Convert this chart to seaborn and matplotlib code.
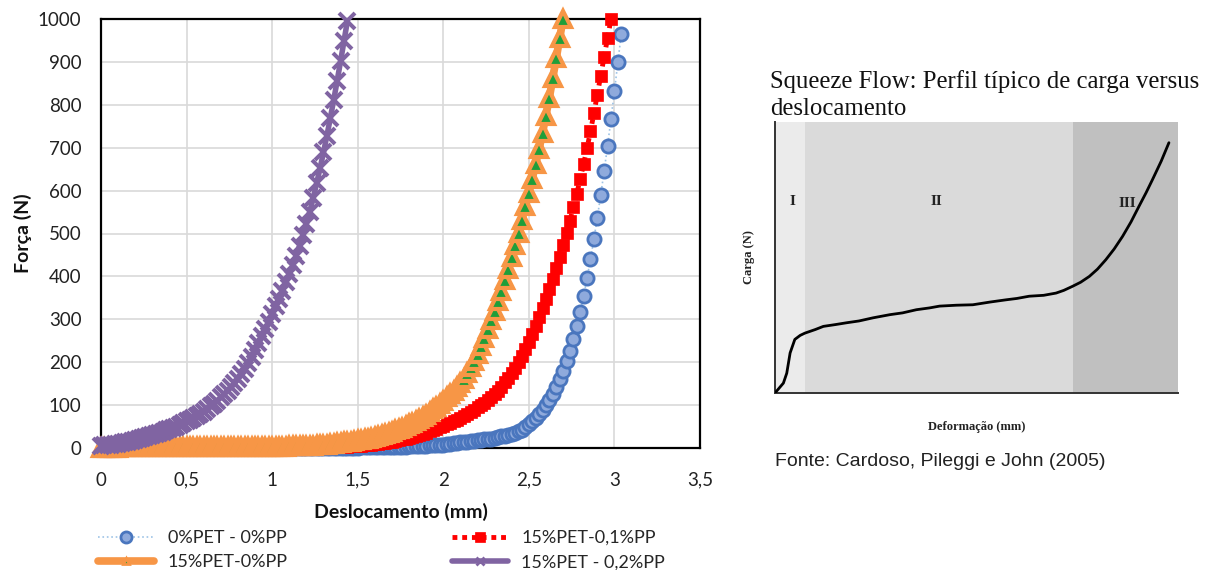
import numpy as np
import matplotlib
matplotlib.use("Agg")
import matplotlib.pyplot as plt
from matplotlib.lines import Line2D
from matplotlib.ticker import FuncFormatter, MultipleLocator
import seaborn as sns

sns.set_theme(style="white")
plt.rcParams["font.family"] = ["Lato", "DejaVu Sans"]

# Displacement is sampled at a constant rate (mm per reading)
STEP_MM = 0.02

# 0%PET - 0%PP  (readings start at 1.00 mm)
blue_start = 1.00
blue_force = [
    0, 0, 0, 0, 0, 0, 0, 0, 0, 0,
    0, 0, 0, 1, 1, 1, 1, 1, 1, 1,
    1, 1, 1, 1, 1, 1, 2, 2, 2, 2,
    2, 2, 2, 2, 2, 3, 3, 3, 3, 3,
    4, 4, 4, 5, 5, 5, 6, 6, 7, 7,
    8, 9, 10, 11, 12, 13, 14, 15, 16, 17,
    18, 19, 20, 21, 22, 23, 25, 27, 29, 31,
    33, 36, 39, 43, 48, 55, 62, 70, 79, 89,
    100, 112, 126, 142, 160, 180, 202, 227, 254, 284,
    318, 355, 396, 440, 487, 537, 590, 646, 705, 767,
    832, 899, 965,
]

# 15%PET-0,1%PP  (readings start at 1.00 mm)
red_start = 1.00
red_force = [
    0, 0, 0, 0, 0, 0, 0, 0, 0, 0,
    0, 0, 0, 0, 0, 1, 1, 1, 2, 2,
    2, 3, 3, 4, 4, 5, 5, 6, 7, 8,
    9, 10, 11, 12, 13, 15, 16, 18, 20, 22,
    24, 26, 28, 31, 33, 36, 39, 42, 45, 48,
    51, 55, 58, 62, 66, 70, 75, 79, 84, 89,
    95, 100, 106, 112, 119, 126, 134, 143, 153, 164,
    175, 187, 200, 215, 231, 248, 266, 285, 305, 326,
    348, 371, 395, 420, 446, 473, 501, 530, 561, 593,
    627, 662, 699, 738, 780, 824, 868, 912, 956, 1000,
]

# 15%PET-0%PP  (readings start at 0 mm)
orange_start = 0.0
orange_force = [
    0, 0, 1, 1, 1, 1, 2, 2, 2, 2,
    2, 2, 2, 3, 3, 3, 3, 3, 3, 3,
    3, 3, 3, 3, 3, 3, 3, 3, 3, 3,
    3, 3, 3, 3, 3, 3, 3, 3, 3, 3,
    3, 3, 3, 3, 3, 3, 3, 3, 3, 3,
    3, 3, 3, 3, 3, 4, 4, 4, 4, 4,
    4, 5, 5, 6, 7, 7, 8, 9, 10, 11,
    12, 13, 14, 15, 16, 18, 19, 21, 22, 24,
    26, 28, 30, 32, 35, 38, 41, 44, 47, 51,
    55, 59, 63, 68, 73, 78, 84, 90, 96, 103,
    110, 118, 126, 134, 143, 152, 162, 174, 188, 203,
    220, 238, 257, 277, 298, 320, 343, 367, 392, 418,
    445, 473, 502, 532, 563, 595, 628, 662, 697, 735,
    775, 817, 862, 908, 955, 1000,
]

# 15%PET - 0,2%PP  (readings start at 0 mm)
purple_start = 0.0
purple_force = [
    5, 6, 7, 8, 9, 10, 12, 13, 15, 17,
    19, 21, 23, 25, 28, 30, 33, 35, 38, 41,
    44, 47, 50, 54, 58, 62, 66, 70, 75, 80,
    85, 91, 97, 103, 110, 118, 126, 134, 142, 151,
    160, 172, 185, 199, 213, 228, 244, 260, 277, 294,
    312, 330, 348, 367, 386, 405, 426, 448, 471, 496,
    522, 551, 583, 617, 652, 689, 728, 769, 812, 856,
    902, 949, 996,
]

series_labels = ["0%PET - 0%PP", "15%PET-0,1%PP", "15%PET-0%PP", "15%PET - 0,2%PP"]

x_ticks = [0, 0.5, 1, 1.5, 2, 2.5, 3, 3.5]
y_ticks = [0, 100, 200, 300, 400, 500, 600, 700, 800, 900, 1000]

# Typical squeeze-flow profile (load vs deformation, arbitrary units)
profile_x = [0.0, 0.25, 0.35, 0.45, 0.59, 0.75, 0.89, 1.2, 1.44, 1.8, 2.13, 2.5, 2.92,
             3.42, 3.8, 4.21, 4.6, 4.9, 5.4, 5.89, 6.4, 6.88, 7.2, 7.57, 8.0, 8.37,
             8.6, 8.86, 9.1, 9.36, 9.6, 9.85, 10.1, 10.35, 10.6, 10.84, 11.05,
             11.24, 11.5, 11.73]
profile_y = [0.0, 0.22, 0.44, 0.89, 1.19, 1.28, 1.33, 1.41, 1.48, 1.52, 1.56, 1.60, 1.67,
             1.74, 1.78, 1.85, 1.89, 1.93, 1.95, 1.96, 2.02, 2.07, 2.10, 2.15, 2.17, 2.22,
             2.28, 2.37, 2.46, 2.59, 2.75, 2.96, 3.20, 3.48, 3.80, 4.15, 4.45,
             4.74, 5.15, 5.56]
zone_bounds = [0.0, 0.89, 8.86, 12.0]
zone_names = ["I", "II", "III"]
zone_colors = ["#EBEBEB", "#DADADA", "#C0C0C0"]

W, H = 1211, 570
fig = plt.figure(figsize=(W / 100, H / 100), dpi=100)

# ---------------- main chart ----------------
ax = fig.add_axes([101 / W, 1 - 448 / H, 599 / W, 429 / H])

styles = [
    dict(force=blue_force, start=blue_start, color="#9DC3E6", marker="o", ms=9.5,
         mfc="#8FAADC", mec="#4A76BE", mew=2.0, ls=":", lw=1.2, leg_ms=8),
    dict(force=red_force, start=red_start, color="#FF0000", marker="s", ms=8.4,
         mfc="#FF0000", mec="#FF0000", mew=0.5, ls=(0, (1, 1)), lw=3.5, leg_ms=7.5),
    dict(force=orange_force, start=orange_start, color="#F79646", marker="^", ms=11.5,
         mfc="#1E9E3A", mec="#F79646", mew=3.0, ls="-", lw=5.5, leg_ms=4.5),
    dict(force=purple_force, start=purple_start, color="#8064A2", marker="x", ms=12,
         mfc="#8064A2", mec="#8064A2", mew=2.9, ls="-", lw=4.0, leg_ms=5.5),
]

legend_handles = []
for z, st in enumerate(styles):
    f = np.asarray(st["force"], dtype=float)
    x = st["start"] + STEP_MM * np.arange(len(f))
    sns.lineplot(x=x, y=f, ax=ax, sort=False, estimator=None, legend=False,
                 color=st["color"], linestyle=st["ls"], linewidth=st["lw"],
                 marker=st["marker"], markersize=st["ms"],
                 markerfacecolor=st["mfc"], markeredgecolor=st["mec"],
                 markeredgewidth=st["mew"], clip_on=False, zorder=3 + z)
    legend_handles.append(Line2D([], [], color=st["color"], linestyle=st["ls"],
                                 linewidth=st["lw"], marker=st["marker"],
                                 markersize=st["leg_ms"], markerfacecolor=st["mfc"],
                                 markeredgecolor=st["mec"],
                                 markeredgewidth=min(st["mew"], 2.0)))

ax.set_xlim(0, 3.5)
ax.set_ylim(0, 1000)
ax.set_xticks(x_ticks)
ax.set_yticks(y_ticks)
ax.xaxis.set_major_formatter(FuncFormatter(lambda v, p: f"{v:g}".replace(".", ",")))
ax.grid(True, color="#D9D9D9", linewidth=1.2)
ax.set_axisbelow(True)
for s in ax.spines.values():
    s.set_color("black")
    s.set_linewidth(1.6)
    s.set_zorder(2.5)
ax.tick_params(axis="both", length=0, labelsize=13.5, colors="#222222")
ax.tick_params(axis="y", pad=14)
ax.tick_params(axis="x", pad=17)
ax.set_xlabel("Deslocamento (mm)", fontsize=14, fontweight="bold", labelpad=10, color="#111111")
ax.set_ylabel("Força (N)", fontsize=14, fontweight="bold", labelpad=4, color="#111111")

# legend fills row by row: reorder for matplotlib's column-major layout
order = [0, 2, 1, 3]
fig.legend([legend_handles[i] for i in order], [series_labels[i] for i in order],
           ncol=2, loc="upper left",
           bbox_to_anchor=(98 / W, 1 - 530 / H), frameon=False, fontsize=13,
           handlelength=3.1, handletextpad=0.75, columnspacing=9.1,
           labelspacing=0.45, borderaxespad=0, borderpad=0)

# ---------------- typical profile panel ----------------
axi = fig.add_axes([775 / W, 1 - 393 / H, 403 / W, 271 / H])
for (a, b), c in zip(zip(zone_bounds[:-1], zone_bounds[1:]), zone_colors):
    axi.axvspan(a, b, color=c, lw=0, zorder=0)
sns.lineplot(x=profile_x, y=profile_y, ax=axi, sort=False, estimator=None,
             color="black", linewidth=2.0, zorder=3, legend=False)
label_pos = [(0.52, 4.26), (4.8, 4.26), (10.5, 4.22)]
for name, (px, py) in zip(zone_names, label_pos):
    axi.text(px, py, name, family="Liberation Serif", fontweight="bold",
             fontsize=11, ha="center", va="center", color="#222222")
axi.set_xlim(0, 12)
axi.set_ylim(0, 6.02)
axi.xaxis.set_major_locator(MultipleLocator(1))
axi.yaxis.set_major_locator(MultipleLocator(1))
axi.set_xticklabels([])
axi.set_yticklabels([])
axi.tick_params(axis="both", direction="out", length=4, width=1, colors="#333333")
axi.spines["top"].set_visible(False)
axi.spines["right"].set_visible(False)
for s in ("left", "bottom"):
    axi.spines[s].set_color("#333333")
    axi.spines[s].set_linewidth(1.4)
axi.set_xlabel("Deformação (mm)", family="Liberation Serif", fontweight="bold",
               fontsize=9, labelpad=13, color="#222222")
axi.set_ylabel("Carga (N)", family="Liberation Serif", fontweight="bold",
               fontsize=9, labelpad=7, color="#222222")

fig.text(770 / W, 1 - 82 / H, "Squeeze Flow: Perfil típico de carga versus",
         family="Liberation Serif", fontsize=17.8, va="center", ha="left", color="#111111")
fig.text(770 / W, 1 - 109 / H, "deslocamento",
         family="Liberation Serif", fontsize=17.8, va="center", ha="left", color="#111111")
fig.text(775 / W, 1 - 461 / H, "Fonte: Cardoso, Pileggi e John (2005)",
         family="Liberation Sans", fontsize=14, va="center", ha="left", color="#222222")

fig.savefig("out.png", dpi=100, facecolor="white")
